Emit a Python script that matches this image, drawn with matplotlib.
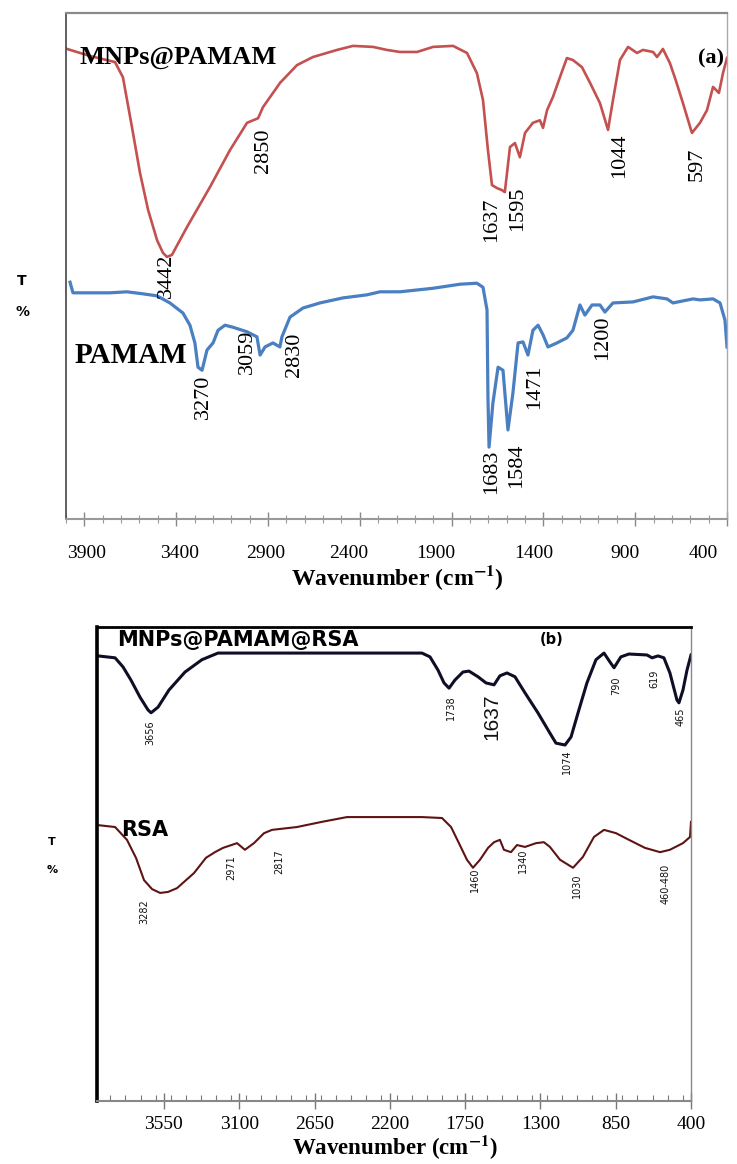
import matplotlib
matplotlib.use('Agg')
import matplotlib.pyplot as plt
from matplotlib import font_manager
from matplotlib.ticker import MultipleLocator
from matplotlib.transforms import ScaledTranslation

plt.rcParams['mathtext.fontset'] = 'stix'

# ---------------- panel (a): MNPs@PAMAM and PAMAM ----------------
mnp_wn = [3995, 3869, 3733, 3690, 3641, 3597, 3553, 3504, 3472, 3450, 3423, 3341,
          3216, 3107, 3014, 2954, 2927, 2834, 2742, 2655, 2524, 2437, 2328, 2252,
          2181, 2088, 2001, 1892, 1816, 1762, 1729, 1702, 1680, 1653, 1626, 1610,
          1582, 1555, 1528, 1500, 1457, 1419, 1402, 1380, 1348, 1310, 1272, 1239,
          1190, 1146, 1092, 1048, 1021, 983, 939, 890, 858, 803, 781, 749, 711,
          679, 640, 591, 547, 509, 476, 444, 422, 400]
mnp_t = [92.9, 91.5, 90.3, 87.3, 77.5, 68.4, 61.1, 55.1, 52.6, 51.8, 52.2, 57.7,
         65.6, 72.9, 78.3, 79.2, 81.4, 86.2, 89.7, 91.3, 92.7, 93.5, 93.3, 92.7,
         92.3, 92.3, 93.3, 93.5, 92.1, 88.1, 82.8, 72.9, 66.0, 65.4, 65.0, 64.6,
         73.5, 74.3, 71.5, 76.3, 78.3, 78.8, 77.3, 80.8, 83.4, 87.3, 91.1, 90.7,
         89.3, 86.2, 82.2, 76.9, 82.8, 90.7, 93.3, 92.1, 92.7, 92.3, 91.3, 92.9,
         90.1, 86.7, 82.2, 76.3, 78.3, 80.8, 85.4, 84.2, 88.1, 91.1]

pamam_wn = [3978, 3962, 3853, 3760, 3668, 3581, 3504, 3434, 3363, 3325, 3298, 3281,
            3259, 3232, 3199, 3172, 3134, 3091, 3014, 2960, 2943, 2916, 2873, 2835,
            2824, 2780, 2709, 2617, 2491, 2361, 2290, 2181, 2001, 1854, 1762, 1729,
            1707, 1702, 1696, 1675, 1647, 1620, 1593, 1566, 1538, 1511, 1484, 1457,
            1429, 1402, 1375, 1326, 1272, 1239, 1201, 1174, 1135, 1092, 1065, 1021,
            912, 803, 727, 694, 640, 585, 547, 476, 438, 411, 400]
pamam_t = [46.8, 44.7, 44.7, 44.7, 44.9, 44.5, 44.1, 42.7, 40.7, 38.3, 34.8, 30.0,
           29.4, 33.4, 34.8, 37.3, 38.3, 37.9, 37.0, 36.0, 32.4, 34.0, 34.8, 34.0,
           36.0, 39.9, 41.7, 42.7, 43.7, 44.3, 44.9, 44.9, 45.6, 46.4, 46.6, 45.8,
           41.3, 24.1, 14.2, 22.9, 30.0, 29.4, 17.6, 24.9, 34.8, 35.0, 32.4, 37.3,
           38.3, 36.4, 34.0, 34.8, 35.8, 37.3, 42.3, 40.3, 42.3, 42.3, 40.9, 42.7,
           42.9, 43.9, 43.5, 42.7, 43.1, 43.5, 43.3, 43.5, 42.7, 39.3, 34.0]

a_ticks = [3900, 3400, 2900, 2400, 1900, 1400, 900, 400]

# peak labels: (text, wavenumber, T)
a_peaks = [('3442', 3455, 48.0), ('2850', 2927, 72.7), ('1637', 1680, 59.1),
           ('1595', 1538, 61.3), ('1044', 983, 71.7), ('597', 564, 70.0),
           ('3270', 3254, 24.1), ('3059', 3014, 33.0), ('2830', 2753, 32.4),
           ('1683', 1680, 9.3), ('1584', 1544, 10.5), ('1471', 1446, 26.1),
           ('1200', 1076, 35.8)]

# ---------------- panel (b): MNPs@PAMAM@RSA and RSA ----------------
rsa_mnp_wn = [3944, 3842, 3795, 3747, 3693, 3645, 3627, 3585, 3520, 3424, 3323, 3227,
              2998, 2504, 2008, 1960, 1912, 1876, 1846, 1811, 1763, 1727, 1673, 1625,
              1577, 1542, 1500, 1452, 1392, 1315, 1243, 1207, 1153, 1117, 1070, 1022,
              968, 920, 884, 860, 819, 771, 663, 633, 597, 562, 526, 484, 472, 448,
              424, 400]
rsa_mnp_t = [93.9, 93.5, 91.6, 88.8, 85.2, 82.5, 81.9, 83.1, 86.7, 90.5, 93.1, 94.5,
             94.5, 94.5, 94.5, 93.7, 90.9, 88.2, 87.1, 88.8, 90.5, 90.7, 89.5, 88.2,
             87.8, 89.7, 90.3, 89.5, 86.1, 81.9, 77.6, 75.5, 75.1, 76.8, 82.5, 88.2,
             93.1, 94.5, 92.6, 91.4, 93.7, 94.3, 94.1, 93.5, 93.9, 93.5, 90.3, 84.6,
             84.0, 86.7, 90.9, 94.1]

rsa_wn = [3944, 3842, 3771, 3717, 3669, 3621, 3573, 3526, 3472, 3370, 3299, 3245,
          3197, 3113, 3066, 3012, 2952, 2904, 2755, 2605, 2456, 2259, 2008, 1888,
          1834, 1787, 1739, 1703, 1661, 1613, 1577, 1542, 1518, 1476, 1440, 1392,
          1326, 1279, 1243, 1183, 1105, 1046, 980, 920, 848, 771, 675, 585, 526,
          448, 406, 400]
rsa_t = [58.2, 57.8, 55.1, 51.3, 46.6, 44.7, 43.9, 44.1, 44.9, 48.1, 51.3, 52.5,
         53.4, 54.4, 53.0, 54.4, 56.5, 57.2, 57.8, 58.9, 59.9, 59.9, 59.9, 59.7,
         57.8, 54.4, 50.9, 49.2, 50.9, 53.4, 54.6, 55.1, 53.0, 52.5, 54.0, 53.6,
         54.4, 54.6, 53.6, 50.9, 49.2, 51.5, 55.7, 57.2, 56.5, 55.1, 53.4, 52.5,
         53.0, 54.4, 55.7, 58.9]

b_ticks = [3550, 3100, 2650, 2200, 1750, 1300, 850, 400]

b_peaks_top = [('3656', 3633, 77.6), ('1738', 1834, 82.9), ('1074', 1141, 71.5),
               ('790', 848, 87.6), ('619', 621, 89.0), ('465', 460, 81.0)]
b_peaks_rsa = [('3282', 3669, 39.9), ('2971', 3149, 49.2), ('2817', 2862, 50.4),
               ('1460', 1691, 46.6), ('1340', 1404, 50.6), ('1030', 1081, 45.4),
               ('460-480', 550, 45.8)]

SERIF = 'Liberation Serif'
names = {f.name for f in font_manager.fontManager.ttflist}
if 'Liberation Sans Narrow' in names:
    NARROW, NARROW_SIZE = 'Liberation Sans Narrow', 9.5
else:
    NARROW, NARROW_SIZE = 'DejaVu Sans', 7

W, H = 737, 1164
fig = plt.figure(figsize=(W / 100, H / 100), dpi=100)


def px_axes(x0, y0, x1, y1):
    return fig.add_axes([x0 / W, 1 - y1 / H, (x1 - x0) / W, (y1 - y0) / H])


## panel (a)
ax = px_axes(66, 13, 727, 519)
ax.plot(mnp_wn, mnp_t, color='#c4504f', lw=1.9)
ax.plot(pamam_wn, pamam_t, color='#4a7fc1', lw=2.3)
ax.set_xlim(4000, 400)
ax.set_ylim(0, 100)
ax.set_yticks([])
ax.set_xticks(a_ticks)
ax.xaxis.set_minor_locator(MultipleLocator(100))
ax.tick_params(axis='x', which='major', direction='inout', length=10, width=1,
               color='#888888', pad=14, labelsize=14)
ax.tick_params(axis='x', which='minor', direction='inout', length=6, width=0.8,
               color='#999999')
## the printed labels drift left of their ticks towards the right end
a_shift = [2, 3, -2, -11, -16, -10, -10, -24]
for lab, dx in zip(ax.get_xticklabels(), a_shift):
    lab.set_fontfamily(SERIF)
    lab.set_transform(lab.get_transform() +
                      ScaledTranslation(dx / 100, 0, fig.dpi_scale_trans))
ax.spines['left'].set_color('#444444')
ax.spines['left'].set_linewidth(1.2)
ax.spines['top'].set_color('#8a8a8a')
ax.spines['top'].set_linewidth(1.6)
ax.spines['right'].set_color('#aaaaaa')
ax.spines['right'].set_linewidth(1)
ax.spines['bottom'].set_color('#999999')
ax.spines['bottom'].set_linewidth(1.5)

for txt, wn, t in a_peaks:
    ax.text(wn, t, txt, rotation=90, ha='center', va='center',
            family=SERIF, fontsize=16)
ax.text(3924, 91.3, 'MNPs@PAMAM', ha='left', va='center', family=SERIF,
        fontsize=19, fontweight='bold')
ax.text(3951, 32.4, 'PAMAM', ha='left', va='center', family=SERIF,
        fontsize=21, fontweight='bold')
ax.text(487, 91.1, '(a)', ha='center', va='center', family=SERIF,
        fontsize=16, fontweight='bold')

fig.text(22 / W, 1 - 281 / H, 'T', ha='center', va='center', fontsize=10,
         fontweight='bold')
fig.text(22 / W, 1 - 312 / H, '%', ha='center', va='center', fontsize=10,
         fontweight='bold')
fig.text(397 / W, 1 - 578 / H, r'Wavenumber (cm$^{\mathbf{-1}}$)', ha='center',
         va='center', family=SERIF, fontsize=17, fontweight='bold')

## panel (b)
bx = px_axes(97, 627, 691, 1101)
bx.plot(rsa_mnp_wn, rsa_mnp_t, color='#0e0e26', lw=2.2)
bx.plot(rsa_wn, rsa_t, color='#5e1414', lw=1.5)
bx.set_xlim(3950, 400)
bx.set_ylim(0, 100)
bx.set_yticks([])
bx.set_xticks(b_ticks)
bx.xaxis.set_minor_locator(MultipleLocator(90))
bx.tick_params(axis='x', which='major', direction='inout', length=12, width=1,
               color='#777777', pad=5, labelsize=14)
bx.tick_params(axis='x', which='minor', direction='in', length=4, width=0.8,
               color='#777777')
for lab in bx.get_xticklabels():
    lab.set_fontfamily(SERIF)
bx.spines['left'].set_color('black')
bx.spines['left'].set_linewidth(2.6)
bx.spines['top'].set_color('black')
bx.spines['top'].set_linewidth(2)
bx.spines['right'].set_color('#888888')
bx.spines['right'].set_linewidth(1)
bx.spines['bottom'].set_color('#888888')
bx.spines['bottom'].set_linewidth(1.5)

for txt, wn, t in b_peaks_top + b_peaks_rsa:
    bx.text(wn, t, txt, rotation=90, ha='center', va='center',
            family=NARROW, fontsize=NARROW_SIZE, color='#111111')
bx.text(1589, 81.0, '1637', rotation=90, ha='center', va='center',
        family='Liberation Sans', fontsize=15, color='#111111')
bx.text(3830, 97.3, 'MNPs@PAMAM@RSA', ha='left', va='center',
        family='DejaVu Sans', fontsize=15, fontweight='heavy')
bx.text(1231, 97.3, '(b)', ha='center', va='center', family='DejaVu Sans',
        fontsize=10.5, fontweight='bold')
bx.text(3807, 57.2, 'RSA', ha='left', va='center', family='DejaVu Sans',
        fontsize=15, fontweight='heavy')

fig.text(52 / W, 1 - 842 / H, 'T', ha='center', va='center', fontsize=8,
         fontweight='bold')
fig.text(52 / W, 1 - 870 / H, '%', ha='center', va='center', fontsize=8,
         fontweight='bold')
fig.text(395 / W, 1 - 1148 / H, r'Wavenumber (cm$^{\mathbf{-1}}$)', ha='center',
         va='center', family=SERIF, fontsize=16.5, fontweight='bold')

fig.savefig('out.png', dpi=100)
plt.close(fig)
